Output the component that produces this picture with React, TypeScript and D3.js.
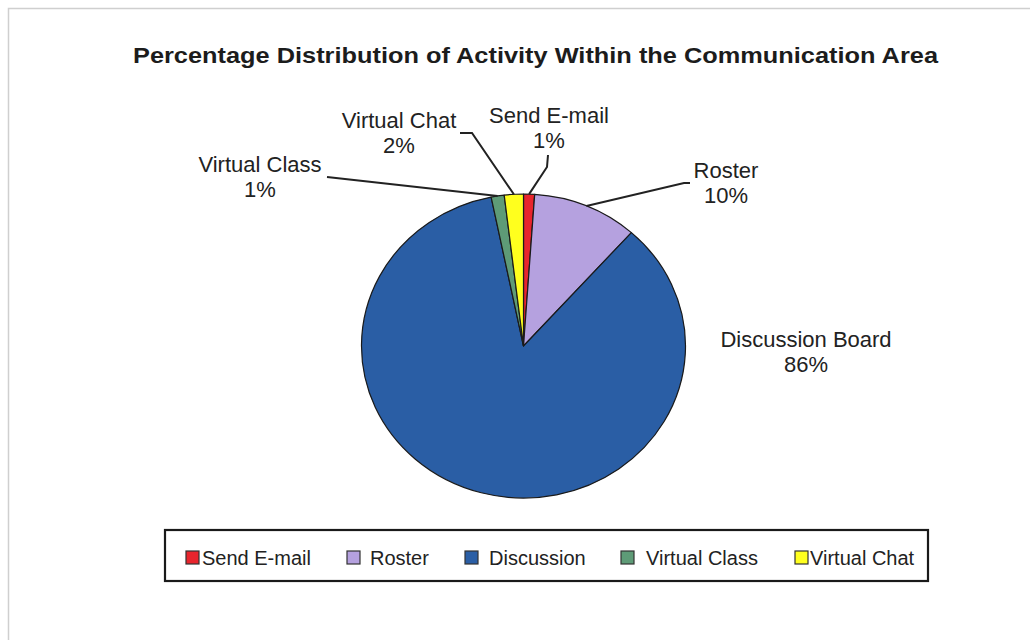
import React from "react";
import * as d3 from "d3";

// ---- data ----
const categories = ["Send E-mail", "Roster", "Discussion Board", "Virtual Class", "Virtual Chat"];
const legendLabels = ["Send E-mail", "Roster", "Discussion", "Virtual Class", "Virtual Chat"];
const values = [1.1, 10.5, 85.2, 1.3, 1.9];
const percentLabels = ["1%", "10%", "86%", "1%", "2%"];
const colors = ["#E8252D", "#B5A1DF", "#2A5EA5", "#5E9B77", "#FFFF1E"];
const title = "Percentage Distribution of Activity Within the Communication Area";

export default function App() {
  const W = 1030, H = 640;
  const cx = 523.5, cy = 346, r = 152, sx = 162 / 152;

  const pie = d3.pie<number>().sort(null).value((d) => d).startAngle(0).endAngle(2 * Math.PI);
  const arcs = pie(values);
  const arc = d3.arc<d3.PieArcDatum<number>>().innerRadius(0).outerRadius(r);

  const anchor = (a: d3.PieArcDatum<number>) => {
    const m = (a.startAngle + a.endAngle) / 2;
    return [cx + sx * r * Math.sin(m), cy - r * Math.cos(m)];
  };

  // label layout: text center x, first baseline y, leader polyline (after anchor) or null
  const labelLayout: { x: number; y: number; line: number[][] | null }[] = [
    { x: 549, y: 123, line: [[547, 167], [548, 155]] },
    { x: 726, y: 178, line: [[684, 183], [690, 183]] },
    { x: 806, y: 347, line: null },
    { x: 260, y: 172, line: [[327, 177]] },
    { x: 399, y: 128, line: [[472, 133], [460, 133]] },
  ];

  const legendX = [186, 347, 465, 621, 795];
  const legendGap = [3, 10, 11, 12, 2];
  const lineGen = d3.line();

  return (
    <svg width={W} height={H} style={{ position: "absolute", left: 0, top: 0, display: "block", background: "#fff" }}
      fontFamily="'Liberation Sans', Arial, sans-serif">
      <rect x={8.5} y={8.5} width={W + 20} height={H + 20} fill="none" stroke="#cfcfcf" strokeWidth={1.5} />
      <text x={133} y={63} fontSize={21.5} fontWeight="bold" fill="#1c1c1c" textLength={805} lengthAdjust="spacingAndGlyphs">
        {title}
      </text>

      <g transform={`translate(${cx},${cy}) scale(${sx},1)`}>
        {arcs.map((a, i) => (
          <path key={i} d={arc(a) as string} fill={colors[i]} stroke="#1a1a1a" strokeWidth={1.2}
            vectorEffect="non-scaling-stroke" strokeLinejoin="round" />
        ))}
      </g>

      {arcs.map((a, i) => {
        const L = labelLayout[i];
        const p = anchor(a);
        return (
          <g key={i}>
            {L.line && (
              <path d={lineGen([p as [number, number], ...(L.line as [number, number][])]) as string}
                fill="none" stroke="#222" strokeWidth={2} />
            )}
            <text x={L.x} y={L.y} textAnchor="middle" fontSize={22} fill="#222">{categories[i]}</text>
            <text x={L.x} y={L.y + 25} textAnchor="middle" fontSize={22} fill="#222">{percentLabels[i]}</text>
          </g>
        );
      })}

      <rect x={165} y={530} width={763} height={51} fill="#fff" stroke="#1a1a1a" strokeWidth={2.2} />
      {legendLabels.map((l, i) => (
        <g key={i}>
          <rect x={legendX[i]} y={551} width={13} height={13} fill={colors[i]} stroke="#333" strokeWidth={1.2} />
          <text x={legendX[i] + 13 + legendGap[i]} y={565} fontSize={20} fill="#222">{l}</text>
        </g>
      ))}
    </svg>
  );
}
